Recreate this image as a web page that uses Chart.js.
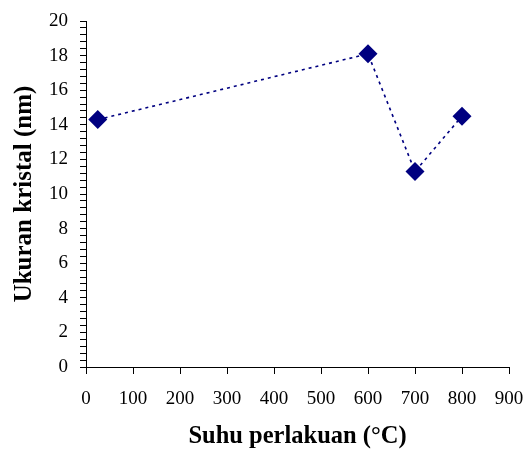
<!DOCTYPE html>
<html>
<head>
<meta charset="utf-8">
<script src="https://cdn.jsdelivr.net/npm/chart.js@4/dist/chart.umd.min.js"></script>
<style>
  html, body { margin: 0; padding: 0; background: #fff; }
  #wrap { width: 528px; height: 451px; }
</style>
</head>
<body>
<div id="wrap"><canvas id="c" width="528" height="451"></canvas></div>
<script>
const temperatures = [25, 600, 700, 800];
const crystalSizes = [14.3, 18.1, 11.3, 14.5];
const xTitle = 'Suhu perlakuan (°C)';
const yTitle = 'Ukuran kristal (nm)';
const xRange = [0, 900];
const yRange = [0, 20];

const points = temperatures.map((t, i) => ({ x: t, y: crystalSizes[i] }));
const serif = '"Liberation Serif", "Times New Roman", serif';

new Chart(document.getElementById('c'), {
  type: 'scatter',
  data: {
    datasets: [{
      data: points,
      showLine: true,
      borderColor: '#000080',
      borderWidth: 1.6,
      borderDash: [3, 4],
      pointStyle: 'rectRot',
      pointRadius: 9.5,
      pointHoverRadius: 9.5,
      pointBackgroundColor: '#000080',
      pointBorderColor: '#000080',
      pointBorderWidth: 0
    }]
  },
  options: {
    responsive: false,
    animation: false,
    events: [],
    layout: { padding: { left: 0, right: 19, top: 21, bottom: 0 } },
    plugins: { legend: { display: false }, tooltip: { enabled: false } },
    scales: {
      x: {
        type: 'linear',
        min: xRange[0], max: xRange[1],
        afterFit: s => { s.height = 84; s.paddingLeft = 0; s.paddingRight = 0; },
        border: { display: true, color: '#000', width: 1 },
        grid: { display: true, drawOnChartArea: false, drawTicks: true, tickLength: 7, color: '#000', lineWidth: 1 },
        ticks: { stepSize: 100, color: '#000', padding: 14, maxRotation: 0, autoSkip: false,
                 font: { family: serif, size: 19 } },
        title: { display: true, text: xTitle, color: '#000', padding: { top: 0, bottom: 0 },
                 font: { family: serif, size: 24.5, weight: 'bold' } }
      },
      y: {
        type: 'linear',
        min: yRange[0], max: yRange[1],
        afterFit: s => { s.width = 86; s.paddingTop = 0; s.paddingBottom = 0; },
        border: { display: true, color: '#000', width: 1 },
        grid: { display: true, drawOnChartArea: false, drawTicks: true, tickLength: 6, color: '#000', lineWidth: 1 },
        ticks: { stepSize: 0.4, autoSkip: false, color: '#000', padding: 12,
                 font: { family: serif, size: 19 },
                 callback: v => (Math.abs(v / 2 - Math.round(v / 2)) < 1e-6 ? Math.round(v) : '') },
        title: { display: true, text: yTitle, color: '#000', padding: { top: 10, bottom: 0 },
                 font: { family: serif, size: 25, weight: 'bold' } }
      }
    }
  }
});
</script>
</body>
</html>
